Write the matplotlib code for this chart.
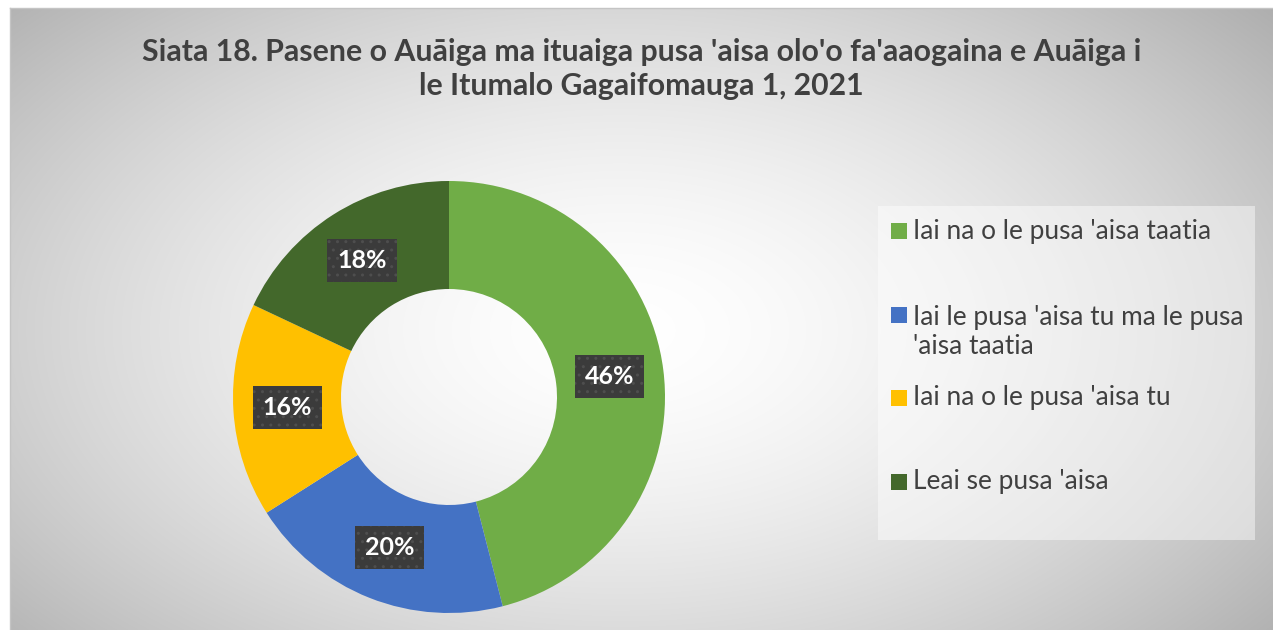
import numpy as np
import matplotlib
matplotlib.use('Agg')
import matplotlib.pyplot as plt
from matplotlib.patches import Rectangle

# data
categories = ["Iai na o le pusa 'aisa taatia",
              "Iai le pusa 'aisa tu ma le pusa\n'aisa taatia",
              "Iai na o le pusa 'aisa tu",
              "Leai se pusa 'aisa"]
percents = [46, 20, 16, 18]
colors = ['#70AD47', '#4472C4', '#FFC000', '#43682B']
title = "Siata 18. Pasene o Auāiga ma ituaiga pusa 'aisa olo'o fa'aaogaina e Auāiga i\nle Itumalo Gagaifomauga 1, 2021"

plt.rcParams['font.family'] = ['Lato', 'DejaVu Sans']

W, H = 1273, 630
fig = plt.figure(figsize=(W / 100, H / 100), dpi=100)

# background with radial gradient
bg = fig.add_axes([0, 0, 1, 1], zorder=-10)
yy, xx = np.mgrid[0:H, 0:W]
d = np.sqrt(((xx - 620) / 720.0) ** 2 + ((yy - 330) / 420.0) ** 2)
shade = 1.0 - 0.24 * np.clip(d, 0, 1.2) ** 1.6
img = np.dstack([shade, shade, shade])
img[:8, :, :] = 1.0
img[:, :10, :] = 1.0
bg.imshow(img, extent=[0, W, H, 0], aspect='auto', interpolation='bilinear')
bg.plot([10, W], [8, 8], color='#c4c4c4', lw=1)
bg.plot([10, 10], [8, H], color='#c4c4c4', lw=1)
bg.set_xlim(0, W)
bg.set_ylim(H, 0)
bg.axis('off')

fig.text(0.5 * (143 + 1140) / W, 1 - 69 / H, title, ha='center', va='center',
         fontsize=21.8, fontweight='bold', color='#404040', linespacing=1.3)

# donut
cx, cy, r = 449, 397, 216
ax = fig.add_axes([(cx - r) / W, (H - cy - r) / H, 2 * r / W, 2 * r / H])
wedges, _, autotexts = ax.pie(percents, colors=colors, startangle=90, counterclock=False,
                              radius=1, wedgeprops=dict(width=0.5, linewidth=0),
                              autopct='%d%%', pctdistance=0.75,
                              textprops=dict(color='white', fontsize=18, fontweight='bold'))
for t in autotexts:
    t.set_bbox(dict(boxstyle='square,pad=0.4', fc='#3b3b3b', ec='#4e4e4e', lw=0, hatch='..'))
ax.set_xlim(-1, 1)
ax.set_ylim(-1, 1)
ax.set_aspect('equal')
ax.axis('off')

# legend
lx0, ly0, lx1, ly1 = 878, 206, 1255, 540
bg.add_patch(Rectangle((lx0, ly0), lx1 - lx0, ly1 - ly0, fc='white', ec='none', alpha=0.45))
slot_y = [231, 315, 398, 482]
for lab, col, y in zip(categories, colors, slot_y):
    n = lab.count('\n')
    bg.add_patch(Rectangle((891, y - 8), 16, 16, fc=col, ec='none'))
    bg.text(913, y + 17 * n, lab, ha='left', va='center', fontsize=18.9,
            color='#404040', linespacing=1.25)

fig.savefig('out.png', dpi=100)
